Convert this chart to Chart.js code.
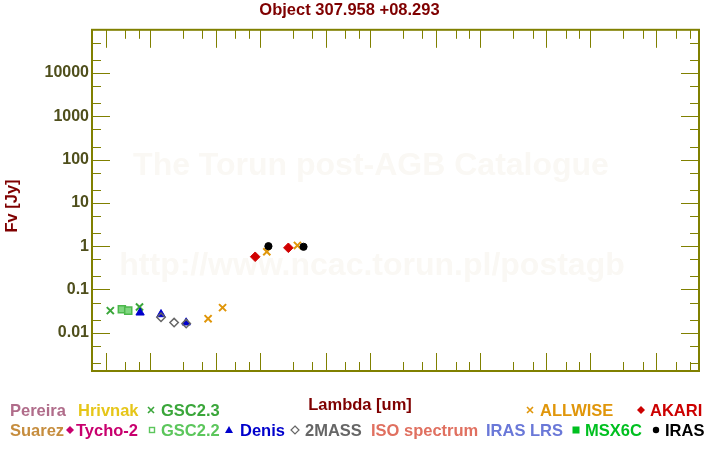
<!DOCTYPE html>
<html>
<head>
<meta charset="utf-8">
<title>Object 307.958 +08.293</title>
<style>
  html, body { margin: 0; padding: 0; background: #fff; }
  #wrap { position: relative; width: 720px; height: 450px; }
</style>
<script src="https://cdn.jsdelivr.net/npm/chart.js@4.4.1/dist/chart.umd.min.js"></script>
</head>
<body>
<div id="wrap"><canvas id="sed" width="720" height="450"></canvas></div>
<script>
// ── Data ──────────────────────────────────────────────────────────────────────
const gsc23Lam   = [0.44, 0.81];
const gsc23Flux  = [0.0325, 0.0393];
const gsc22Lam   = [0.56, 0.64];
const gsc22Flux  = [0.0348, 0.0325];
const denisLam   = [0.82, 1.27, 2.15];
const denisFlux  = [0.0292, 0.0267, 0.0172];
const tmassLam   = [1.27, 1.67, 2.15];
const tmassFlux  = [0.0228, 0.0172, 0.0163];
const allwiseLam = [3.4, 4.6, 11.6, 22];
const allwiseFlux= [0.0212, 0.0381, 0.743, 1.04];
const akariLam   = [9.1, 18.2];
const akariFlux  = [0.57, 0.918];
const irasLam    = [12, 25];
const irasFlux   = [1.0, 0.97];

// axis ticks
const xMajor = [0.4, 1, 4, 10, 40, 100, 400, 1000, 4000, 10000, 40000];
const xMinor = [0.6, 0.8, 2, 3, 6, 8, 20, 30, 60, 80, 200, 300, 600, 800,
                2000, 3000, 6000, 8000, 20000, 30000, 60000, 80000];
const yMajor = [0.01, 0.1, 1, 10, 100, 1000, 10000];
const yMinor = [0.002, 0.005, 0.02, 0.05, 0.2, 0.5, 2, 5, 20, 50, 200, 500,
                2000, 5000, 20000, 50000];
const X_MIN = 0.331, X_MAX = 97500;
const Y_MIN = 0.00131, Y_MAX = 99500;

// ── Style ─────────────────────────────────────────────────────────────────────
const OLIVE = '#808000';
const TICK_TXT = '#4f4f1c';
const DARKRED = '#7f0000';
const FONT = "'Liberation Sans', Arial, sans-serif";
Chart.defaults.font.family = FONT;

const pts = (xs, ys) => xs.map((x, i) => ({ x, y: ys[i] }));

// legend entries: [text, colour, marker, markerX, textX, row]
const legendItems = [
  ['Pereira',      '#b06c8a', null,       0,   10, 0],
  ['Hrivnak',      '#e6c619', null,       0,   78, 0],
  ['GSC2.3',       '#3aa63a', 'cross',  151,  161, 0],
  ['ALLWISE',      '#e0960a', 'cross',  530,  540, 0],
  ['AKARI',        '#cc0000', 'diamond',641,  650, 0],
  ['Suarez',       '#c68d3e', null,       0,   10, 1],
  ['Tycho-2',      '#c8006e', 'diamond', 70,   76, 1],
  ['GSC2.2',       '#5cc65c', 'square', 152,  161, 1],
  ['Denis',        '#0000cc', 'triangle',229, 240, 1],
  ['2MASS',        '#666666', 'diamondO',295, 305, 1],
  ['ISO spectrum', '#e07060', null,       0,  371, 1],
  ['IRAS LRS',     '#6a78d8', null,       0,  486, 1],
  ['MSX6C',        '#00c020', 'squareF',576,  585, 1],
  ['IRAS',         '#000000', 'circle', 656,  665, 1]
];

function mark(ctx, kind, x, y, color) {
  ctx.save();
  ctx.fillStyle = color; ctx.strokeStyle = color; ctx.lineWidth = 1.6;
  ctx.beginPath();
  if (kind === 'cross') {
    ctx.moveTo(x - 3, y - 3); ctx.lineTo(x + 3, y + 3);
    ctx.moveTo(x + 3, y - 3); ctx.lineTo(x - 3, y + 3); ctx.stroke();
  } else if (kind === 'diamond' || kind === 'diamondO') {
    ctx.moveTo(x, y - 4); ctx.lineTo(x + 4, y); ctx.lineTo(x, y + 4); ctx.lineTo(x - 4, y); ctx.closePath();
    if (kind === 'diamond') ctx.fill(); else { ctx.lineWidth = 1.2; ctx.stroke(); }
  } else if (kind === 'square') {
    ctx.lineWidth = 1.4; ctx.strokeRect(x - 2.5, y - 2.5, 5, 5);
  } else if (kind === 'squareF') {
    ctx.fillRect(x - 3.5, y - 3.5, 7, 7);
  } else if (kind === 'triangle') {
    ctx.moveTo(x, y - 4); ctx.lineTo(x + 4, y + 3); ctx.lineTo(x - 4, y + 3); ctx.closePath(); ctx.fill();
  } else if (kind === 'circle') {
    ctx.arc(x, y, 3.2, 0, Math.PI * 2); ctx.fill();
  }
  ctx.restore();
}

// frame, inward ticks, watermark, axis titles and legend
const sedFrame = {
  id: 'sedFrame',
  beforeDatasetsDraw(chart) {
    const ctx = chart.ctx;
    ctx.save();
    ctx.fillStyle = '#faf8f4';
    ctx.font = 'bold 32px ' + FONT;
    ctx.textAlign = 'center';
    ctx.textBaseline = 'alphabetic';
    ctx.fillText('The Torun post-AGB Catalogue', 371, 175);
    ctx.fillText('http://www.ncac.torun.pl/postagb', 372, 275);
    ctx.restore();
  },
  afterDraw(chart) {
    const { ctx, chartArea: a, scales } = chart;
    const L = a.left, R = a.right, T = a.top, B = a.bottom;
    ctx.save();
    ctx.strokeStyle = OLIVE;
    ctx.lineWidth = 1;
    ctx.beginPath();
    const xt = (vals, len) => vals.forEach(v => {
      const p = Math.round(scales.x.getPixelForValue(v)) + 0.5;
      ctx.moveTo(p, B); ctx.lineTo(p, B - len);
      ctx.moveTo(p, T); ctx.lineTo(p, T + len);
    });
    const yt = (vals, len) => vals.forEach(v => {
      const p = Math.round(scales.y.getPixelForValue(v)) + 0.5;
      ctx.moveTo(L, p); ctx.lineTo(L + len, p);
      ctx.moveTo(R, p); ctx.lineTo(R - len, p);
    });
    xt(xMajor, 18); xt(xMinor, 9);
    yt(yMajor, 18); yt(yMinor, 9);
    ctx.stroke();
    ctx.lineWidth = 2;
    ctx.strokeRect(L, T, R - L, B - T);

    // axis titles
    ctx.fillStyle = DARKRED;
    ctx.font = 'bold 16.5px ' + FONT;
    ctx.textAlign = 'center';
    ctx.textBaseline = 'alphabetic';
    ctx.fillText('Lambda [um]', 360, 410);
    ctx.save();
    ctx.translate(17, 206);
    ctx.rotate(-Math.PI / 2);
    ctx.fillText('Fv [Jy]', 0, 0);
    ctx.restore();

    // legend
    ctx.textAlign = 'left';
    legendItems.forEach(([text, color, kind, mx, tx, row]) => {
      const base = row === 0 ? 416 : 436;
      if (kind) mark(ctx, kind, mx, base - 6, color);
      ctx.fillStyle = color;
      ctx.fillText(text, tx, base);
    });
    ctx.restore();
  }
};

const ds = (label, xs, ys, style, color, fill, radius, bw) => ({
  label, data: pts(xs, ys), pointStyle: style, pointRadius: radius,
  borderColor: color, backgroundColor: fill, pointBorderWidth: bw,
  showLine: false
});

new Chart(document.getElementById('sed'), {
  type: 'scatter',
  data: {
    datasets: [
      ds('IRAS',    irasLam,    irasFlux,    'circle',   '#000000', '#000000', 3.6, 1),
      ds('AKARI',   akariLam,   akariFlux,   'rectRot',  '#d00000', '#d00000', 4.8, 1),
      ds('ALLWISE', allwiseLam, allwiseFlux, 'crossRot', '#e0960a', '#e0960a', 5, 2),
      ds('2MASS',   tmassLam,   tmassFlux,   'rectRot',  '#666666', 'rgba(0,0,0,0)', 4.2, 1.5),
      ds('Denis',   denisLam,   denisFlux,   'triangle', '#0000cc', '#0000cc', 4.8, 1),
      ds('GSC2.2',  gsc22Lam,   gsc22Flux,   'rect',     '#4cb84c', '#7fd67f', 5, 1.5),
      ds('GSC2.3',  gsc23Lam,   gsc23Flux,   'crossRot', '#3aa63a', '#3aa63a', 5, 2)
    ]
  },
  options: {
    responsive: false,
    animation: false,
    layout: { padding: { left: 0, right: 21, top: 0, bottom: 79 } },
    plugins: {
      legend: { display: false },
      tooltip: { enabled: false },
      title: {
        display: true, text: 'Object 307.958 +08.293', color: DARKRED,
        font: { size: 16.5, weight: 'bold' }, padding: { top: 1, bottom: 9 }
      }
    },
    scales: {
      x: {
        type: 'logarithmic', min: X_MIN, max: X_MAX,
        afterBuildTicks: s => { s.ticks = xMajor.map(v => ({ value: v })); },
        afterFit: s => { s.height = 0; },
        grid: { display: false, drawTicks: false },
        border: { display: false },
        ticks: {
          autoSkip: false, maxRotation: 0, minRotation: 0, padding: 3,
          color: TICK_TXT, font: { size: 16, weight: 'bold' },
          callback: v => String(v)
        }
      },
      y: {
        type: 'logarithmic', min: Y_MIN, max: Y_MAX,
        afterBuildTicks: s => { s.ticks = yMajor.map(v => ({ value: v })); },
        afterFit: s => { s.width = 92; },
        grid: { display: false, drawTicks: false },
        border: { display: false },
        ticks: {
          autoSkip: false, padding: 3,
          color: TICK_TXT, font: { size: 16, weight: 'bold' },
          callback: v => String(v)
        }
      }
    }
  },
  plugins: [sedFrame]
});
</script>
</body>
</html>
